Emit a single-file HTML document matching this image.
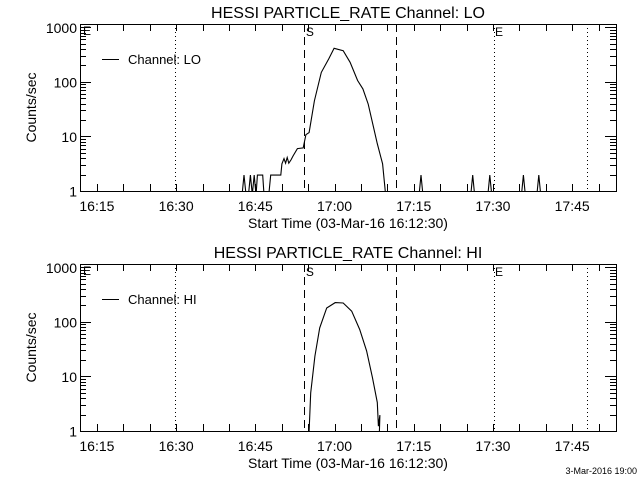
<!DOCTYPE html>
<html><head><meta charset="utf-8"><style>
body{margin:0;background:#fff;}
svg{display:block;font-family:"Liberation Sans",sans-serif;}
</style></head><body>
<svg id="c" width="640" height="480" xmlns="http://www.w3.org/2000/svg">
<rect width="640" height="480" fill="#fff"/>
</svg>
<script>
// minutes since 16:15
const loTimes=[0,27.56,27.86,28.17,28.77,29.07,29.38,29.48,29.78,30.08,30.18,30.39,31.4,31.6,32.6,32.91,34.83,35.03,35.43,35.74,36.04,36.34,36.75,37.15,37.96,39.07,39.57,40.18,41.19,42.5,43.91,44.92,46.64,47.95,49.36,50.37,51.38,53.1,54.11,54.61,54.82,61.07,61.38,61.68,70.87,71.17,71.47,74.1,74.4,74.7,80.46,80.76,81.06,83.38,83.69,83.99,100];
const loValues=[0,0,2,0,0,2,0,0,2,0,0,2,2,0,0,2,2,3.2,4,3.3,4.2,3.3,3.8,4.5,6.1,6.3,11,12,46,152,270,420,380,233,108,76,40,7.5,3.2,1,0,0,2,0,0,2,0,0,2,0,0,2,0,0,2,0,0];
const hiTimes=[0,40.08,40.18,40.48,41.29,42.2,43.51,45.12,46.64,48.25,49.77,51.08,52.19,53.1,53.3,53.6,53.5,53.55];
const hiValues=[0,0,1,5.1,24,79,183,230,226,160,74,30,9.6,3.4,1.25,2,1,0];
const xTickLabels=["16:15","16:30","16:45","17:00","17:15","17:30","17:45"];
const xTickMinutes=[0,15,30,45,60,75,90];
const yTickLabels=["1","10","100","1000"];
const yTickValues=[1,10,100,1000];
const vlineMinutes=[14.8,39.2,56.6,75.2,92.8];
const vlineStyles=["dot","dash","dash","dot","dot"];

const NS="http://www.w3.org/2000/svg";
const svg=document.getElementById('c');
function el(t,a,p){const e=document.createElementNS(NS,t);for(const k in a)e.setAttribute(k,a[k]);(p||svg).appendChild(e);return e;}
const X0=80,X1=616,MIN0=-3.2,MIN1=98.3;
function xs(m){return X0+(m-MIN0)/(MIN1-MIN0)*(X1-X0);}
function panel(top,title,legend,times,vals,name){
  const g=el('g',{});
  
  
  const Y0=top,Y1=top+167,LMAX=3.06;
  const ys=v=>{const l=Math.log10(Math.max(v,1));return Y1+0.5-l/LMAX*(Y1-Y0);};
  const t=el('text',{x:348,y:top-6,'font-size':16,'text-anchor':'middle',fill:'#000'},g);t.textContent=title;
  
  const f=el('rect',{x:X0+0.5,y:Y0+0.5,width:X1-X0,height:Y1-Y0,fill:'none',stroke:'#000','stroke-width':1,'shape-rendering':'crispEdges'},g);
  
  for(let m=0;m<=95;m+=5){const x=Math.round(xs(m))+0.5;
    el('line',{x1:x,x2:x,y1:Y1,y2:Y1-7,stroke:'#000','shape-rendering':'crispEdges'},g);
    el('line',{x1:x,x2:x,y1:Y0,y2:Y0+7,stroke:'#000','shape-rendering':'crispEdges'},g);}
  xTickLabels.forEach((s,i)=>{const tx=el('text',{x:xs(xTickMinutes[i]),y:Y1+20,'font-size':14,'text-anchor':'middle'},g);tx.textContent=s;
    });
  const xl=el('text',{x:348,y:Y1+37,'font-size':14,'text-anchor':'middle'},g);xl.textContent='Start Time (03-Mar-16 16:12:30)';
  
  for(let d=0;d<4;d++)for(let k=1;k<10;k++){const v=k*Math.pow(10,d);if(Math.log10(v)>LMAX)break;
    const y=Math.round(ys(v)-0.5)+0.5,L=k==1?11:6;
    el('line',{x1:X0,x2:X0+L,y1:y,y2:y,stroke:'#000','shape-rendering':'crispEdges'},g);
    el('line',{x1:X1,x2:X1-L,y1:y,y2:y,stroke:'#000','shape-rendering':'crispEdges'},g);}
  yTickLabels.forEach((s,i)=>{const ty=el('text',{x:X0-3,y:ys(yTickValues[i])+5,'font-size':14,'text-anchor':'end'},g);ty.textContent=s;
    });
  const yl=el('text',{x:36,y:(Y0+Y1)/2,'font-size':14,'text-anchor':'middle',transform:`rotate(-90 36 ${(Y0+Y1)/2})`},g);yl.textContent='Counts/sec';
  
  vlineMinutes.forEach((m,i)=>{const x=Math.round(xs(m))+0.5;
    const ln=el('line',{x1:x,x2:x,y1:Y0,y2:Y1,stroke:'#000','stroke-dasharray':vlineStyles[i]=='dot'?'1,3':'8,5','shape-rendering':'crispEdges'},g);
    });
  const sl=el('text',{x:xs(vlineMinutes[1])+2,y:Y0+12,'font-size':12},g);sl.textContent='S';
  
  const el2=el('text',{x:xs(vlineMinutes[3])+1,y:Y0+12,'font-size':12},g);el2.textContent='E';
  
  el('text',{x:X0+3,y:Y0+11,'font-size':12},g).textContent='E';
  const ly=Y0+35;
  el('line',{x1:102,x2:119,y1:ly+0.5,y2:ly+0.5,stroke:'#000','shape-rendering':'crispEdges'},g);
  const lt=el('text',{x:128,y:ly+5,'font-size':13},g);lt.textContent=legend;
  
  const cp=el('clipPath',{id:'cp'+name},g);el('rect',{x:X0,y:Y0,width:X1-X0,height:Y1-Y0+1},cp);
  const pts=times.map((m,i)=>xs(m).toFixed(1)+','+ys(vals[i]).toFixed(1)).join(' ');
  const pl=el('polyline',{points:pts,fill:'none',stroke:'#000','stroke-width':1.1,'clip-path':`url(#cp${name})`},g);
  
}
panel(24,'HESSI PARTICLE_RATE Channel: LO','Channel: LO',loTimes,loValues,'lo');
panel(264,'HESSI PARTICLE_RATE Channel: HI','Channel: HI',hiTimes,hiValues,'hi');
const d=el('text',{x:637,y:474,'font-size':9,'text-anchor':'end'});d.textContent='3-Mar-2016 19:00';


</script>
</body></html>
